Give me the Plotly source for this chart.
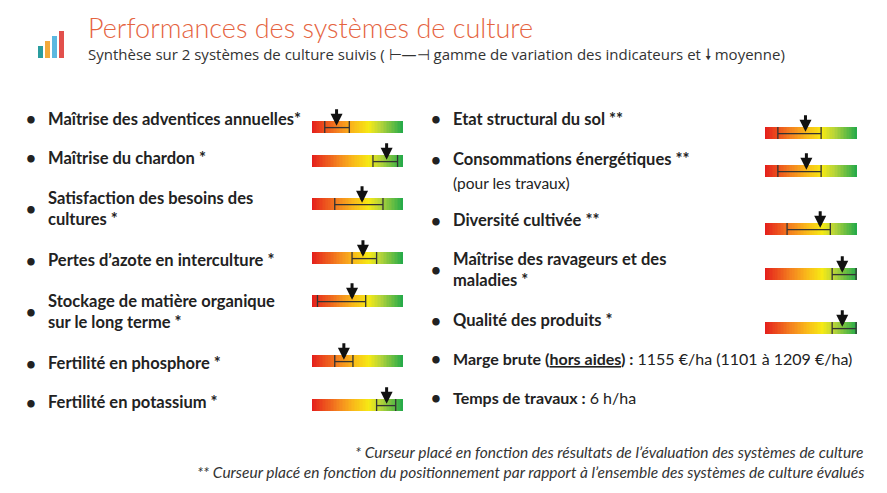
import plotly.graph_objects as go

W, H = 871, 477
OFF = 8
# ---- data ----
left_labels = ["Maîtrise des adventices annuelles*", "Maîtrise du chardon *",
               "Satisfaction des besoins des<br>cultures *", "Pertes d’azote en interculture *",
               "Stockage de matière organique<br>sur le long terme *", "Fertilité en phosphore *",
               "Fertilité en potassium *"]
left_min = [0.14, 0.67, 0.25, 0.44, 0.06, 0.25, 0.71]
left_max = [0.41, 0.94, 0.78, 0.71, 0.59, 0.45, 0.92]
left_mean = [0.27, 0.82, 0.55, 0.56, 0.44, 0.35, 0.82]
right_labels = ["Etat structural du sol **", "Consommations énergétiques **",
                "Diversité cultivée **", "Maîtrise des ravageurs et des<br>maladies *",
                "Qualité des produits *"]
right_min = [0.14, 0.14, 0.24, 0.73, 0.73]
right_max = [0.61, 0.61, 0.71, 0.99, 0.99]
right_mean = [0.44, 0.45, 0.60, 0.84, 0.84]
gradient = [i / 60 for i in range(61)]

# ---- layout positions (pixels in target) ----
left_text_y = [119, 158, 208, 260, 311, 363, 402]
left_bar_y = [127, 161, 204, 258, 301, 361, 405]
right_text_y = [119, 159, 220, 269, 320]
right_bar_y = [133, 171, 229, 274, 328]

def px(x): return (x - OFF) / W
def py(y): return 1 - (y - OFF) / H

fig = go.Figure()
layout = dict(width=W, height=H, margin=dict(l=0, r=0, t=0, b=0),
              paper_bgcolor="white", plot_bgcolor="white", showlegend=False)
ann, shapes = [], []
cs = [[0, "#e41e1c"], [0.3, "#f5891f"], [0.45, "#f9b81a"], [0.62, "#f6ea14"], [0.75, "#b6d43a"], [1, "#1ea84a"]]

gauges = [(312, 403, y, a, b, m) for y, a, b, m in zip(left_bar_y, left_min, left_max, left_mean)] + \
         [(765, 857, y, a, b, m) for y, a, b, m in zip(right_bar_y, right_min, right_max, right_mean)]
for i, (x0, x1, yc, a, b, m) in enumerate(gauges):
    k = i + 1
    xa, ya = ("x" if k == 1 else f"x{k}"), ("y" if k == 1 else f"y{k}")
    fig.add_trace(go.Heatmap(z=[gradient], x=gradient, y=[0.5], colorscale=cs, zmin=0, zmax=1,
                             showscale=False, hoverinfo="skip", xaxis=xa, yaxis=ya))
    fig.add_trace(go.Scatter(x=[a, a, None, a, b, None, b, b], y=[0, 1, None, 0.45, 0.45, None, 0, 1],
                             mode="lines", line=dict(color="#333", width=1.3), xaxis=xa, yaxis=ya,
                             hoverinfo="skip"))
    sfx = "" if k == 1 else str(k)
    layout["xaxis" + sfx] = dict(domain=[px(x0), px(x1)], range=[0, 1], visible=False, fixedrange=True,
                                 anchor=ya)
    layout["yaxis" + sfx] = dict(domain=[py(yc + 6), py(yc - 6)], range=[0, 1], visible=False,
                                 fixedrange=True, anchor=xa)
    ann.append(dict(x=m, y=0.6, xref=xa, yref=ya, text="", showarrow=True, ax=0, ay=-18,
                    arrowhead=2, arrowsize=0.8, arrowwidth=3, arrowcolor="#111"))

F = "Lato"
def text(x, y, t, size=16.5, bold=True, color="#222", xanchor="left", italic=False, family=F):
    if bold: t = "<b>" + t + "</b>"
    if italic: t = "<i>" + t + "</i>"
    ann.append(dict(x=px(x), y=py(y), xref="paper", yref="paper", text=t, showarrow=False,
                    xanchor=xanchor, yanchor="middle", align="left",
                    font=dict(family=family, size=size, color=color)))

for lab, y in zip(left_labels, left_text_y):
    text(24, y, "•", 17)
    text(46, y, lab)
for lab, y in zip(right_labels, right_text_y):
    text(429, y, "•", 17)
    text(451, y, lab)
text(451, 183, "(pour les travaux)", 15.5, bold=False)
text(429, 358, "•", 17)
text(451, 358, "<b>Marge brute (<u>hors aides</u>) :</b> 1155 €/ha (1101 à 1209 €/ha)", 16, bold=False)
text(429, 397, "•", 17)
text(451, 397, "<b>Temps de travaux :</b> 6 h/ha", 16, bold=False)

text(86, 27, "Performances des systèmes de culture", 27, bold=False, color="#e5643f", family="Lato Light, Lato")
text(86, 54, "Synthèse sur 2 systèmes de culture suivis ( ⊢—⊣ gamme de variation des indicateurs et 🠗 moyenne)",
     15, bold=False, color="#333", family="Open Sans")
text(866, 452, "* Curseur placé en fonction des résultats de l’évaluation des systèmes de culture", 15.5,
     bold=False, italic=True, xanchor="right", color="#333")
text(866, 472, "** Curseur placé en fonction du positionnement par rapport à l’ensemble des systèmes de culture évalués",
     15.5, bold=False, italic=True, xanchor="right", color="#333")

# icon
for (x0, h, c) in [(38, 12, "#2a9d9f"), (45, 17, "#f2a93b"), (52, 22, "#5bb8e0"), (59, 27, "#e2504c")]:
    shapes.append(dict(type="rect", xref="paper", yref="paper", x0=px(x0), x1=px(x0 + 5),
                       y0=py(58), y1=py(58 - h), fillcolor=c, line=dict(width=0)))

layout["annotations"] = ann
layout["shapes"] = shapes
fig.update_layout(**layout)
fig.write_html("out.html")
